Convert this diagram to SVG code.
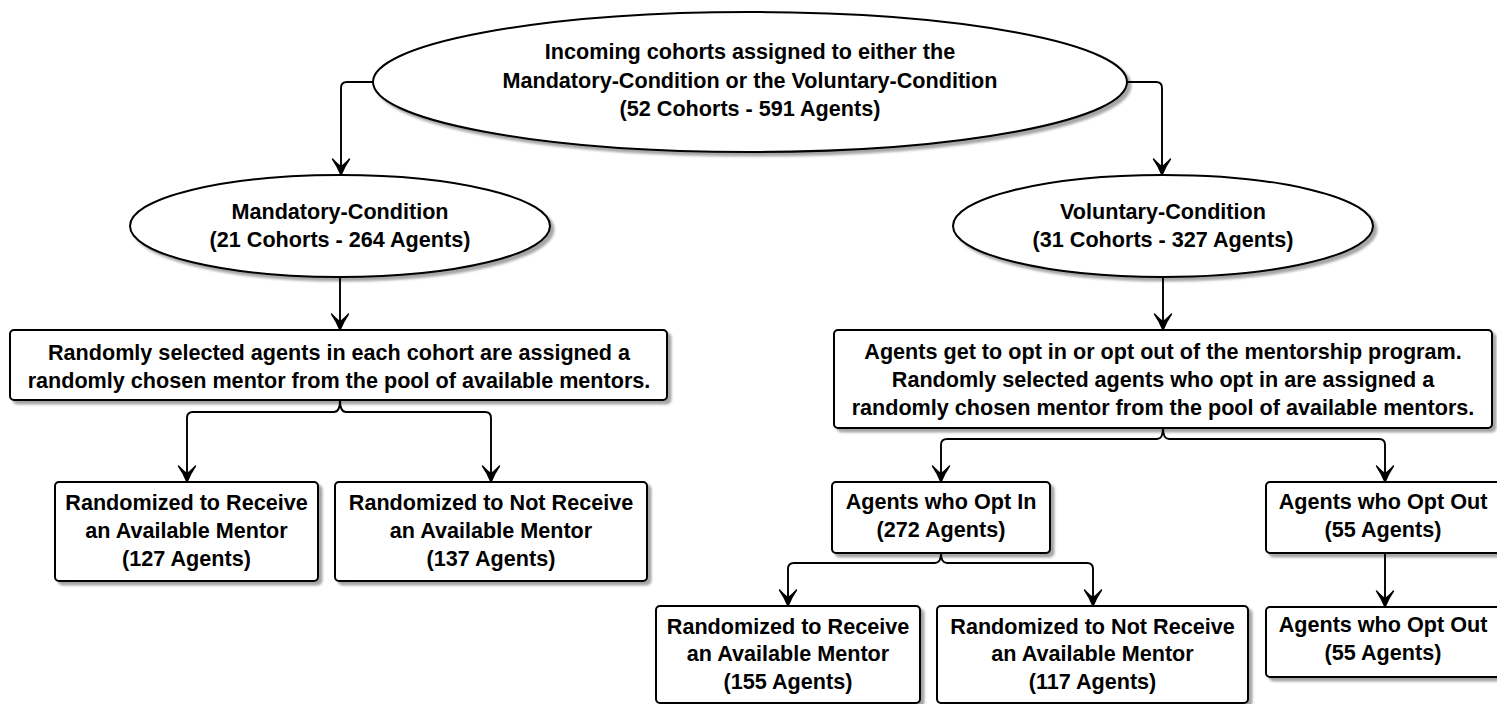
<svg xmlns="http://www.w3.org/2000/svg" width="1497" height="704" viewBox="0 0 1497 704">
<style>
  .node { fill: #ffffff; stroke: #000000; stroke-width: 2; filter: url(#shadow); }
  .lbl { font-family: "Liberation Sans", Arial, sans-serif; font-weight: bold; font-size: 21.6px; fill: #000000; text-anchor: middle; }
  .conn { fill: none; stroke: #000000; stroke-width: 1.9; marker-end: url(#arrow); }
</style>
<defs>
  <filter id="shadow" x="-5%" y="-5%" width="115%" height="130%">
    <feDropShadow dx="3.5" dy="3.5" stdDeviation="0.8" flood-color="#000000" flood-opacity="0.35"/>
  </filter>
  <marker id="arrow" markerUnits="userSpaceOnUse" markerWidth="24" markerHeight="24" viewBox="-20 -12 24 24" refX="0" refY="0" orient="auto">
    <path d="M0,0 Q-8,-3 -16,-8.5 Q-10.5,-3.5 -8.5,0 Q-10.5,3.5 -16,8.5 Q-8,3 0,0 Z" fill="#000000" stroke="#000000" stroke-width="1.4" stroke-linejoin="round"/>
  </marker>
</defs>
<rect x="0" y="0" width="1497" height="704" fill="#ffffff"/>

<g id="connectors">
  <path class="conn" d="M373,82 H347 Q341,82 341,88 V175"/>
  <path class="conn" d="M1127,82 H1156 Q1162,82 1162,88 V175"/>
  <path class="conn" d="M340,277 V330"/>
  <path class="conn" d="M1163,277 V330"/>
  <path class="conn" d="M340,400 Q340,412 334,412 H193 Q187,412 187,418 V482"/>
  <path class="conn" d="M340,400 Q340,412 346,412 H485 Q491,412 491,418 V482"/>
  <path class="conn" d="M1163,428 Q1163,439 1157,439 H947 Q941,439 941,445 V482"/>
  <path class="conn" d="M1163,428 Q1163,439 1169,439 H1379 Q1385,439 1385,445 V482"/>
  <path class="conn" d="M941,553 Q941,563 935,563 H794 Q788,563 788,569 V606"/>
  <path class="conn" d="M941,553 Q941,563 947,563 H1087 Q1093,563 1093,569 V606"/>
  <path class="conn" d="M1385,553 V607"/>
</g>

<g id="root">
  <ellipse class="node" cx="750" cy="82" rx="377" ry="70"/>
  <text class="lbl" x="750" y="59">Incoming cohorts assigned to either the</text>
  <text class="lbl" x="750" y="88">Mandatory-Condition or the Voluntary-Condition</text>
  <text class="lbl" x="750" y="116">(52 Cohorts - 591 Agents)</text>
</g>

<g id="mandatory">
  <ellipse class="node" cx="340" cy="226" rx="210" ry="51"/>
  <text class="lbl" x="340" y="219">Mandatory-Condition</text>
  <text class="lbl" x="340" y="247">(21 Cohorts - 264 Agents)</text>
</g>

<g id="voluntary">
  <ellipse class="node" cx="1163" cy="226" rx="210" ry="51"/>
  <text class="lbl" x="1163" y="219">Voluntary-Condition</text>
  <text class="lbl" x="1163" y="247">(31 Cohorts - 327 Agents)</text>
</g>

<g id="mand-assign">
  <rect class="node" x="10" y="330" width="657" height="70" rx="4"/>
  <text class="lbl" x="339" y="360">Randomly selected agents in each cohort are assigned a</text>
  <text class="lbl" x="339" y="388">randomly chosen mentor from the pool of available mentors.</text>
</g>

<g id="vol-assign">
  <rect class="node" x="834" y="330" width="658" height="98" rx="4"/>
  <text class="lbl" x="1163" y="359">Agents get to opt in or opt out of the mentorship program.</text>
  <text class="lbl" x="1163" y="387">Randomly selected agents who opt in are assigned a</text>
  <text class="lbl" x="1163" y="415">randomly chosen mentor from the pool of available mentors.</text>
</g>

<g id="mand-receive">
  <rect class="node" x="55" y="482" width="263" height="99" rx="4"/>
  <text class="lbl" x="186.5" y="510">Randomized to Receive</text>
  <text class="lbl" x="186.5" y="538">an Available Mentor</text>
  <text class="lbl" x="186.5" y="566">(127 Agents)</text>
</g>

<g id="mand-not-receive">
  <rect class="node" x="335" y="482" width="312" height="99" rx="4"/>
  <text class="lbl" x="491" y="510">Randomized to Not Receive</text>
  <text class="lbl" x="491" y="538">an Available Mentor</text>
  <text class="lbl" x="491" y="566">(137 Agents)</text>
</g>

<g id="opt-in">
  <rect class="node" x="832" y="482" width="218" height="71" rx="4"/>
  <text class="lbl" x="941" y="509">Agents who Opt In</text>
  <text class="lbl" x="941" y="537">(272 Agents)</text>
</g>

<g id="opt-out">
  <rect class="node" x="1266" y="482" width="238" height="71" rx="4"/>
  <text class="lbl" x="1383" y="509">Agents who Opt Out</text>
  <text class="lbl" x="1383" y="537">(55 Agents)</text>
</g>

<g id="vol-receive">
  <rect class="node" x="656" y="606" width="264" height="97" rx="4"/>
  <text class="lbl" x="788" y="634">Randomized to Receive</text>
  <text class="lbl" x="788" y="661">an Available Mentor</text>
  <text class="lbl" x="788" y="689">(155 Agents)</text>
</g>

<g id="vol-not-receive">
  <rect class="node" x="937" y="606" width="311" height="97" rx="4"/>
  <text class="lbl" x="1092.5" y="634">Randomized to Not Receive</text>
  <text class="lbl" x="1092.5" y="661">an Available Mentor</text>
  <text class="lbl" x="1092.5" y="689">(117 Agents)</text>
</g>

<g id="opt-out-final">
  <rect class="node" x="1266" y="607" width="238" height="70" rx="4"/>
  <text class="lbl" x="1383" y="632">Agents who Opt Out</text>
  <text class="lbl" x="1383" y="660">(55 Agents)</text>
</g>
</svg>
